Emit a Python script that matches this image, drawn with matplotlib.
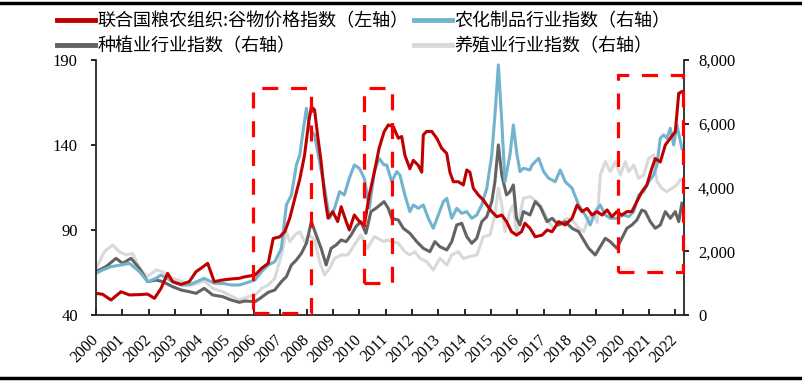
import matplotlib
matplotlib.use("Agg")
import matplotlib.pyplot as plt
from matplotlib.patches import Rectangle
from matplotlib.lines import Line2D
from matplotlib.ticker import FuncFormatter

# 联合国粮农组织:谷物价格指数 (left axis)
red_year = [2000.00, 2000.25, 2000.57, 2000.95, 2001.27, 2001.65, 2001.96, 2002.22, 2002.47, 2002.72,
            2002.91, 2003.23, 2003.54, 2003.80, 2003.99, 2004.24, 2004.49, 2004.81, 2005.13, 2005.44,
            2005.66, 2006.04, 2006.29, 2006.54, 2006.73, 2006.98, 2007.17, 2007.36, 2007.55, 2007.74,
            2007.92, 2008.08, 2008.18, 2008.30, 2008.43, 2008.55, 2008.68, 2008.81, 2008.99, 2009.18,
            2009.31, 2009.50, 2009.62, 2009.81, 2010.00, 2010.19, 2010.38, 2010.57, 2010.75, 2010.94,
            2011.10, 2011.29, 2011.48, 2011.61, 2011.73, 2011.92, 2012.05, 2012.24, 2012.37, 2012.43,
            2012.56, 2012.75, 2012.94, 2013.13, 2013.32, 2013.44, 2013.57, 2013.76, 2013.95, 2014.08,
            2014.20, 2014.33, 2014.52, 2014.71, 2014.84, 2015.03, 2015.22, 2015.41, 2015.59, 2015.78,
            2015.97, 2016.16, 2016.29, 2016.48,
            2016.68, 2016.94, 2017.13, 2017.32, 2017.57, 2017.82, 2018.08, 2018.27, 2018.46, 2018.65,
            2018.84, 2019.03, 2019.22, 2019.41, 2019.59, 2019.78, 2019.97, 2020.16, 2020.35, 2020.54,
            2020.73, 2020.92, 2021.11, 2021.24, 2021.43, 2021.62, 2021.81, 2022.00, 2022.13, 2022.25]
red_val = [52.7, 52.2, 48.8, 53.7, 51.8, 52.0, 52.3, 49.8, 55.7, 64.5,
           59.6, 58.0, 59.6, 65.5, 67.5, 70.4, 59.6, 60.6, 61.2, 61.6,
           62.5, 63.5, 67.5, 70.4, 85.0, 86.0, 89.0, 97.0, 108.6, 120.0,
           134.0, 153.7, 162.5, 160.6, 144.0, 130.0, 110.6, 97.0, 100.8, 95.0,
           103.7, 95.0, 90.0, 98.8, 95.0, 93.0, 110.6, 124.0, 138.0, 147.8,
           151.8, 150.8, 144.0, 145.0, 134.0, 126.0, 131.0, 128.0, 124.0, 146.0,
           148.0, 148.0, 144.0, 138.0, 135.0, 124.0, 118.4, 118.4, 116.5, 125.3,
           124.0, 114.5, 110.6, 107.6, 104.7, 100.8, 97.8, 98.8, 95.0, 89.0,
           87.0, 89.0, 94.0, 91.0,
           86.0, 87.0, 90.0, 89.0, 94.9, 93.0, 96.9, 104.7, 100.8, 102.7,
           98.8, 100.8, 98.8, 101.8, 97.8, 100.8, 98.8, 100.8, 100.8, 106.7,
           112.5, 116.5, 126.3, 132.0, 130.0, 140.0, 144.0, 147.8, 170.4, 171.4]

# 农化制品行业指数 (right axis)
blue_year = [2000.00, 2000.25, 2000.57, 2000.95, 2001.27, 2001.65, 2001.96, 2002.28, 2002.47, 2002.91,
             2003.23, 2003.54, 2004.11, 2004.49, 2004.81, 2005.13, 2005.44,
             2005.66, 2006.04, 2006.29, 2006.54, 2006.79, 2007.04, 2007.23, 2007.42, 2007.61, 2007.74,
             2007.86, 2007.99, 2008.11, 2008.30, 2008.49, 2008.68, 2008.87, 2009.06, 2009.25, 2009.43,
             2009.62, 2009.81, 2010.00, 2010.19, 2010.38, 2010.57, 2010.75, 2010.94,
             2011.04, 2011.23, 2011.42, 2011.54, 2011.73, 2011.92, 2012.05, 2012.24, 2012.43, 2012.62,
             2012.81, 2013.00, 2013.19, 2013.32, 2013.51, 2013.70, 2013.89, 2014.08, 2014.27, 2014.46,
             2014.65, 2014.84, 2015.03, 2015.15, 2015.28, 2015.41, 2015.53, 2015.72, 2015.85, 2015.97,
             2016.10, 2016.23, 2016.48,
             2016.56, 2016.81, 2017.00, 2017.19, 2017.44, 2017.63, 2017.82, 2018.08, 2018.33, 2018.58,
             2018.77, 2018.96, 2019.15, 2019.34, 2019.53, 2019.78, 2020.04, 2020.23, 2020.42, 2020.61,
             2020.80, 2020.99, 2021.18, 2021.30, 2021.43, 2021.56, 2021.68, 2021.81, 2021.94, 2022.06,
             2022.25]
blue_val = [1307, 1412, 1517, 1569, 1621, 1360, 1046, 1150, 1255, 1046,
            941, 941, 1150, 994, 994, 941, 941,
            994, 1098, 1360, 1569, 1673, 2092, 3452, 3766, 4707, 5021,
            5753, 6485, 5858, 5649, 4812, 3975, 3034, 3347, 3870, 3766,
            4289, 4707, 4602, 4289, 3347, 4498, 4916, 4707,
            4707, 4184, 4498, 4393, 3766, 3243, 3452, 3347, 3452, 3034,
            2720, 3138, 3556, 3661, 3034, 3347, 3190, 3243, 3034, 3138,
            3452, 3975, 5021, 6276, 7845, 6067, 4184, 5021, 5962, 5126,
            4498, 4602, 4550,
            4707, 4916, 4498, 4289, 4184, 4550, 4184, 3975, 3452, 3138,
            2824, 3243, 3452, 3138, 3034, 3034, 3138, 3086, 3243, 3766,
            3870, 4184, 4393, 4707, 5544, 5649, 5544, 5858, 5335, 5962,
            5230]

# 种植业行业指数 (right axis)
dark_year = [2000.00, 2000.38, 2000.76, 2001.01, 2001.33, 2001.65, 2001.96, 2002.28, 2002.53, 2002.91,
             2003.23, 2003.54, 2003.80, 2004.11, 2004.43, 2004.81, 2005.13, 2005.44,
             2005.66, 2006.04, 2006.23, 2006.54, 2006.79, 2007.04, 2007.23, 2007.42, 2007.61, 2007.80,
             2007.99, 2008.18, 2008.36, 2008.55, 2008.74, 2008.93, 2009.12, 2009.31, 2009.50, 2009.69,
             2009.87, 2010.06, 2010.25, 2010.44, 2010.63, 2010.94,
             2011.10, 2011.23, 2011.48, 2011.67, 2011.92, 2012.18, 2012.43, 2012.68, 2012.87, 2013.06,
             2013.32, 2013.51, 2013.70, 2013.89, 2014.08, 2014.27, 2014.46, 2014.65, 2014.84, 2015.03,
             2015.15, 2015.28, 2015.41, 2015.59, 2015.72, 2015.85, 2015.97, 2016.10, 2016.23, 2016.48,
             2016.68, 2016.87, 2017.13, 2017.32, 2017.57, 2017.82, 2018.08, 2018.33, 2018.52, 2018.71,
             2018.96, 2019.15, 2019.34, 2019.53, 2019.78, 2019.97, 2020.16, 2020.35, 2020.54, 2020.73,
             2020.86, 2021.05, 2021.24, 2021.43, 2021.62, 2021.81, 2022.00, 2022.13, 2022.25]
dark_val = [1360, 1517, 1778, 1621, 1778, 1464, 1046, 1098, 1046, 889,
            784, 732, 680, 837, 628, 575, 471, 397,
            439, 418, 523, 711, 784, 1046, 1203, 1569, 1726, 1935,
            2249, 2929, 2510, 2092, 1569, 2092, 2197, 2353, 2301, 2510,
            2772, 2929, 2563, 3243, 3347, 3556,
            3347, 3034, 2981, 2720, 2563, 2301, 2092, 1987, 2301, 2144,
            2040, 2301, 2824, 2877, 2458, 2249, 2406, 2929, 3086, 3556,
            4184, 5335, 4393, 3766, 3870, 4080, 3034, 2824, 3243, 3138,
            3556, 3400, 2929, 3034, 2824, 2929, 2720, 2615, 2353, 2092,
            1883, 2144, 2406, 2301, 2092, 2406, 2720, 2824, 2981, 3295,
            3243, 2929, 2720, 2824, 3243, 3034, 3243, 2929, 3504]

# 养殖业行业指数 (right axis)
light_year = [2000.00, 2000.32, 2000.63, 2000.89, 2001.14, 2001.39, 2001.65, 2001.96, 2002.28, 2002.53,
              2002.91, 2003.29, 2003.67, 2004.11, 2004.43, 2004.81, 2005.19, 2005.44,
              2005.79, 2006.04, 2006.29, 2006.54, 2006.79, 2007.04, 2007.23, 2007.36, 2007.55, 2007.74,
              2007.92, 2008.11, 2008.30, 2008.49, 2008.68, 2008.87, 2009.06, 2009.31, 2009.56, 2009.81,
              2010.06, 2010.31, 2010.57, 2010.94,
              2011.04, 2011.29, 2011.48, 2011.73, 2011.92, 2012.11, 2012.30, 2012.56, 2012.81, 2013.06,
              2013.32, 2013.51, 2013.76, 2013.95, 2014.20, 2014.46, 2014.71, 2014.96, 2015.15, 2015.28,
              2015.41, 2015.53, 2015.72, 2015.85, 2015.97, 2016.10, 2016.23, 2016.48,
              2016.75, 2016.94, 2017.19, 2017.38, 2017.63, 2017.89, 2018.14, 2018.33, 2018.52, 2018.71,
              2018.90, 2019.03, 2019.15, 2019.34, 2019.53, 2019.72, 2019.91, 2020.10, 2020.23, 2020.42,
              2020.61, 2020.80, 2020.99, 2021.18, 2021.30, 2021.49, 2021.68, 2021.87, 2022.06, 2022.19]
light_val = [1464, 1987, 2197, 1987, 1883, 1935, 1464, 1203, 1412, 1360,
             1150, 1046, 941, 1067, 837, 732, 575, 471,
             575, 628, 837, 941, 1150, 1883, 2615, 2301, 2510, 2615,
             2301, 2510, 2353, 1673, 1255, 1464, 1778, 1883, 1883, 2197,
             2510, 2092, 2458, 2301,
             2353, 2301, 2249, 1987, 1883, 1987, 1778, 1673, 1412, 1778,
             1569, 1883, 1987, 1778, 1831, 1883, 2458, 2510, 3138, 3975,
             3452, 2615, 3243, 3452, 2510, 3138, 3661, 3713,
             3556, 3347, 2929, 2720, 2877, 3034, 2929, 2720, 2615, 3034,
             3200, 2900, 4393, 4812, 4498, 4812, 4393, 4812, 4498, 4707,
             4289, 4393, 4916, 5021, 4184, 3975, 3870, 3975, 4080, 4237]

year_ticks = list(range(2000, 2023))
labels = ["联合国粮农组织:谷物价格指数（左轴）", "农化制品行业指数（右轴）",
          "种植业行业指数（右轴）", "养殖业行业指数（右轴）"]
colors = ["#C00000", "#72B3CE", "#636363", "#D9D9D9"]

plt.rcParams['font.family'] = ['Liberation Serif', 'Noto Sans CJK SC']

fig = plt.figure(figsize=(8.02, 3.82), dpi=100)
ax = fig.add_axes([96 / 802, 1 - 315 / 382, 588 / 802, 255 / 382])
ax2 = ax.twinx()

lw = 2.2
ax2.plot(light_year, light_val, color=colors[3], lw=lw)
ax2.plot(dark_year, dark_val, color=colors[2], lw=lw)
ax2.plot(blue_year, blue_val, color=colors[1], lw=lw)
ax.plot(red_year, red_val, color=colors[0], lw=lw)
ax.set_zorder(ax2.get_zorder() + 1)
ax.patch.set_visible(False)

# highlight boxes
for x0, y0, x1, y1 in [(2005.97, 41.2, 2008.17, 173.5),
                       (2010.19, 58.8, 2011.25, 173.5),
                       (2019.81, 65.3, 2022.28, 181.2)]:
    ax.add_patch(Rectangle((x0, y0), x1 - x0, y1 - y0, fill=False, edgecolor='#FF0000',
                           lw=2.3, linestyle=(0, (5, 4)), clip_on=False, zorder=5))

ax.set_xlim(2000, 2022.33)
ax.set_ylim(40, 190)
ax.set_yticks([40, 90, 140, 190])
ax2.set_ylim(0, 8000)
ax2.set_yticks([0, 2000, 4000, 6000, 8000])
ax2.yaxis.set_major_formatter(FuncFormatter(lambda v, p: f"{int(v):,}"))

ax.set_xticks(year_ticks)
ax.set_xticklabels([str(y) for y in year_ticks], rotation=45, ha='right',
                   va='center', rotation_mode='anchor')

for a in (ax, ax2):
    a.spines['top'].set_visible(False)
    for s in ['left', 'right', 'bottom']:
        a.spines[s].set_color('#262626')
        a.spines[s].set_linewidth(1.3)
ax.spines['right'].set_visible(False)
ax2.spines['left'].set_visible(False)
ax2.spines['bottom'].set_visible(False)

ax.tick_params(axis='x', direction='in', length=4, width=1.2, labelsize=11.5, pad=16)
ax.tick_params(axis='y', direction='out', length=3.6, width=1.2, labelsize=12, pad=9.5)
ax2.tick_params(axis='y', direction='out', length=3.6, width=1.2, labelsize=12, pad=6.5)

# legend fills column by column: red/dark in col 1, blue/light in col 2
order = [0, 2, 1, 3]
handles = [Line2D([], [], color=colors[i], lw=3.5) for i in order]
fig.legend(handles, [labels[i] for i in order], loc='upper left',
           bbox_to_anchor=(44 / 802, 1 - 0 / 382),
           ncol=2, frameon=False, prop={'family': ['Noto Sans CJK SC'], 'size': 13},
           handlelength=2.1, handletextpad=0.15, columnspacing=0.3,
           labelspacing=0.38, borderpad=0.2)

# black rules at top and bottom
fig.add_artist(Line2D([0, 1], [1 - 3 / 382, 1 - 3 / 382], color='black', lw=2.5,
                      transform=fig.transFigure))
fig.add_artist(Line2D([0, 1], [1 - 378 / 382, 1 - 378 / 382], color='black', lw=2.5,
                      transform=fig.transFigure))

fig.savefig("out.png", dpi=100)
